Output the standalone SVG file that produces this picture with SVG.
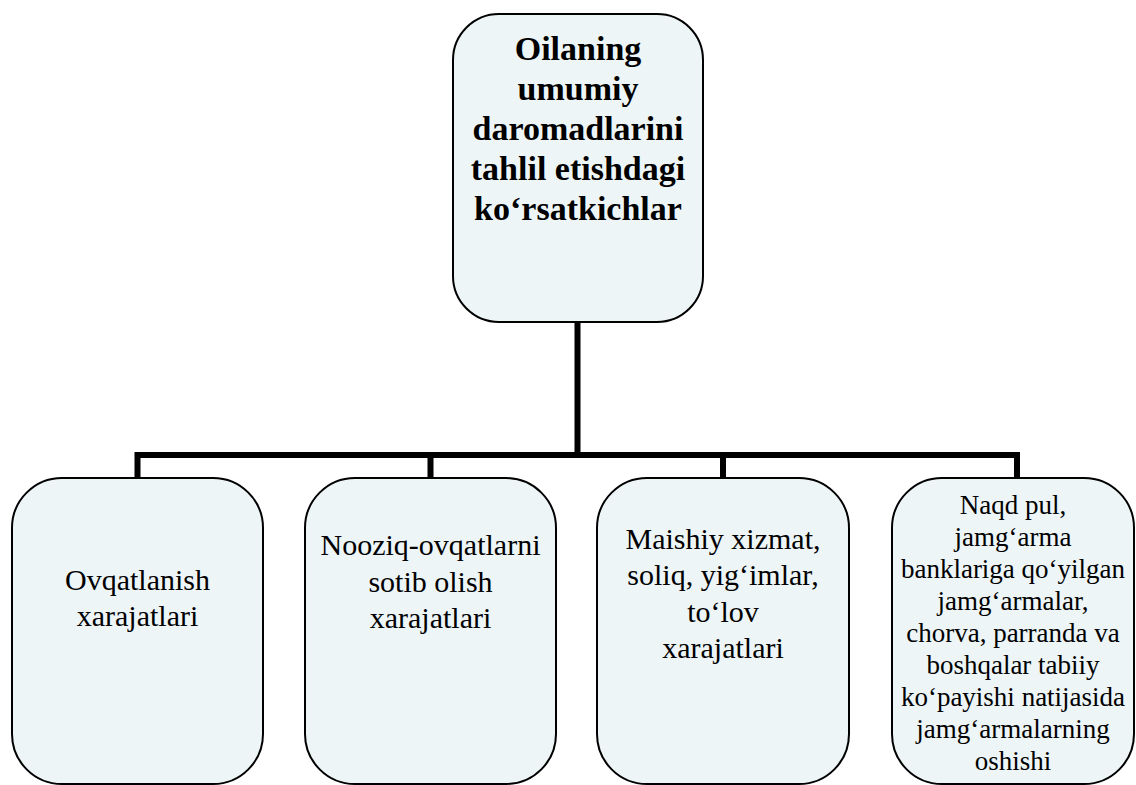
<svg xmlns="http://www.w3.org/2000/svg" width="1136" height="785" viewBox="0 0 1136 785">
<style>
.box{fill:#EDF5F7;stroke:#000;stroke-width:2}
.conn{fill:none;stroke:#000;stroke-width:6;stroke-linecap:square}
.t{text-anchor:middle;fill:#000;font-family:"Liberation Serif","Times New Roman",serif}
.tb{font-size:34px;font-weight:bold}
.tr{font-size:30px}
.ts{font-size:27px}
</style>
<rect width="1136" height="785" fill="#fff"/>
<g id="connectors">
<path class="conn" d="M577.5 323 V455 M137.5 455 H1017 M137.5 455 V478 M430.5 455 V478 M723 455 V478 M1017 455 V478"/>
</g>
<g id="root">
<rect class="box" x="453" y="14" width="250" height="308" rx="46" ry="46"/>
<text class="t tb" x="578" y="60">Oilaning</text>
<text class="t tb" x="578" y="100">umumiy</text>
<text class="t tb" x="578" y="140">daromadlarini</text>
<text class="t tb" x="578" y="180">tahlil etishdagi</text>
<text class="t tb" x="578" y="220">ko‘rsatkichlar</text>
</g>
<g id="n1">
<rect class="box" x="12" y="478" width="251" height="306" rx="50" ry="50"/>
<text class="t tr" x="137.5" y="590">Ovqatlanish</text>
<text class="t tr" x="137.5" y="626">xarajatlari</text>
</g>
<g id="n2">
<rect class="box" x="305" y="478" width="251" height="306" rx="50" ry="50"/>
<text class="t tr" x="430.5" y="555">Nooziq-ovqatlarni</text>
<text class="t tr" x="430.5" y="592">sotib olish</text>
<text class="t tr" x="430.5" y="628">xarajatlari</text>
</g>
<g id="n3">
<rect class="box" x="597" y="478" width="252" height="306" rx="50" ry="50"/>
<text class="t tr" x="723" y="549">Maishiy xizmat,</text>
<text class="t tr" x="723" y="585">soliq, yig‘imlar,</text>
<text class="t tr" x="723" y="622">to‘lov</text>
<text class="t tr" x="723" y="658">xarajatlari</text>
</g>
<g id="n4">
<rect class="box" x="892" y="478" width="242" height="306" rx="50" ry="50"/>
<text class="t ts" x="1013" y="514">Naqd pul,</text>
<text class="t ts" x="1013" y="546">jamg‘arma</text>
<text class="t ts" x="1013" y="578">banklariga qo‘yilgan</text>
<text class="t ts" x="1013" y="610">jamg‘armalar,</text>
<text class="t ts" x="1013" y="642">chorva, parranda va</text>
<text class="t ts" x="1013" y="674">boshqalar tabiiy</text>
<text class="t ts" x="1013" y="706">ko‘payishi natijasida</text>
<text class="t ts" x="1013" y="738">jamg‘armalarning</text>
<text class="t ts" x="1013" y="770">oshishi</text>
</g>
</svg>
